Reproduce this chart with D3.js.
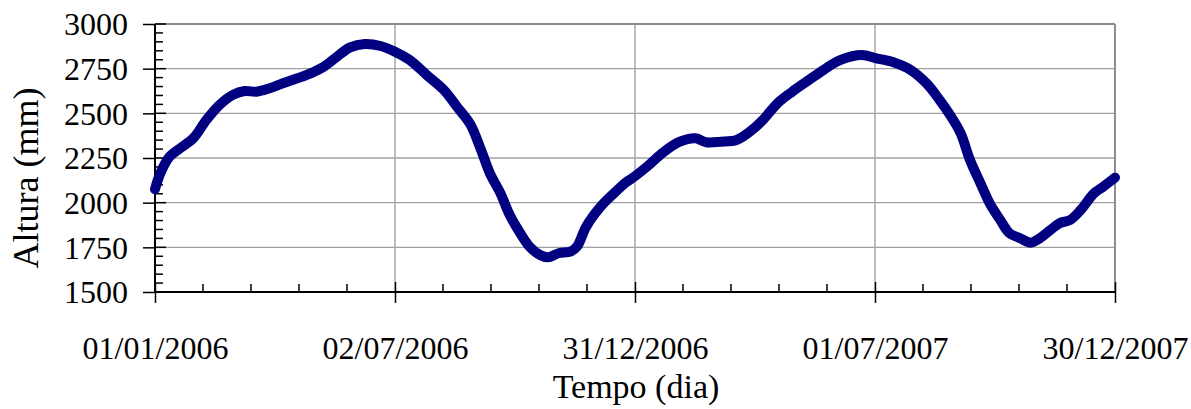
<!DOCTYPE html>
<html>
<head>
<meta charset="utf-8">
<script src="https://cdn.jsdelivr.net/npm/d3@7"></script>
<style>
  body { margin: 0; background: #fff; }
  text { font-family: "Liberation Serif", "Times New Roman", serif; fill: #000; }
</style>
</head>
<body>
<svg id="chart" width="1191" height="409"></svg>
<script>
// dias contados a partir de 01/01/2006
const dias = [0, 4, 11, 19, 29, 39, 49, 59, 68, 77, 87, 97, 108, 118, 128, 138, 148, 159, 171, 182,
  193, 206, 219, 229, 239, 247, 254, 262, 269, 277, 284, 292, 298, 306, 315, 320, 327, 338, 348, 358,
  360, 373, 386, 398, 410, 418, 429, 441, 451, 461, 472, 483, 494, 507, 520, 536, 547, 560, 573, 585,
  595, 603, 611, 618, 626, 633, 641, 648, 656, 664, 671, 679, 686, 694, 702, 712, 719, 728];
const altura = [2075, 2164, 2257, 2304, 2360, 2463, 2547, 2603, 2625, 2621, 2640, 2668, 2696, 2724, 2761, 2817, 2869, 2888, 2877, 2845,
  2799, 2715, 2631, 2537, 2440, 2300, 2164, 2052, 1931, 1829, 1754, 1707, 1694, 1717, 1726, 1754, 1866, 1978, 2052, 2118,
  2127, 2201, 2285, 2341, 2360, 2338, 2341, 2351, 2397, 2463, 2556, 2620, 2677, 2743, 2799, 2826, 2808, 2786, 2743, 2668,
  2575, 2490, 2388, 2239, 2108, 1996, 1903, 1829, 1801, 1776, 1801, 1847, 1885, 1903, 1959, 2052, 2089, 2140];

const xTickLabels = ["01/01/2006", "02/07/2006", "31/12/2006", "01/07/2007", "30/12/2007"];
const yTicks = [1500, 1750, 2000, 2250, 2500, 2750, 3000];
const yMinor = d3.range(1500, 3001, 50);

const parse = d3.timeParse("%d/%m/%Y");
const fmt = d3.timeFormat("%d/%m/%Y");
const inicio = parse("01/01/2006");
const data = dias.map((d, i) => ({ date: d3.timeDay.offset(inicio, d), v: altura[i] }));

const L = 155, R = 1115, T = 24, B = 292;
const svg = d3.select("#chart");

const x = d3.scaleTime().domain([parse(xTickLabels[0]), parse(xTickLabels[xTickLabels.length - 1])]).range([L, R]);
const y = d3.scaleLinear().domain([1500, 3000]).range([B, T]);

const majorX = xTickLabels.map(parse);

// grade
svg.append("g").selectAll("line").data(yTicks.slice(1)).join("line")
  .attr("x1", L).attr("x2", R).attr("y1", d => y(d)).attr("y2", d => y(d))
  .attr("stroke", "#a0a0a0").attr("stroke-width", 1.3);
svg.append("g").selectAll("line").data(majorX.slice(1)).join("line")
  .attr("x1", d => x(d)).attr("x2", d => x(d)).attr("y1", T).attr("y2", B)
  .attr("stroke", "#a8a8a8").attr("stroke-width", 1.5);
svg.append("line").attr("x1", L).attr("x2", R).attr("y1", T).attr("y2", T)
  .attr("stroke", "#8a8a8a").attr("stroke-width", 1.8);
svg.append("line").attr("x1", R).attr("x2", R).attr("y1", T).attr("y2", B)
  .attr("stroke", "#8a8a8a").attr("stroke-width", 1.8);

// eixo y
const yAxis = svg.append("g").attr("transform", `translate(${L},0)`)
  .call(d3.axisLeft(y).tickValues(yTicks).tickSize(12).tickPadding(15).tickFormat(d3.format("d")));
yAxis.select(".domain").remove();
yAxis.selectAll("text").style("font-size", "32px").attr("dy", "0.34em");
yAxis.selectAll(".tick line").attr("stroke-width", 1.5);
svg.append("g").selectAll("line").data(yMinor).join("line")
  .attr("x1", L).attr("x2", d => L + (yTicks.includes(d) ? 11 : 8))
  .attr("y1", d => y(d)).attr("y2", d => y(d))
  .attr("stroke", "#000").attr("stroke-width", 1.5);
svg.append("line").attr("x1", L).attr("x2", L).attr("y1", T).attr("y2", B + 1)
  .attr("stroke", "#000").attr("stroke-width", 2);

// eixo x
const minorX = [];
for (let i = 0; i < majorX.length - 1; i++) {
  const x0 = x(majorX[i]), x1 = x(majorX[i + 1]);
  for (let k = 1; k < 5; k++) minorX.push(x0 + (x1 - x0) * k / 5);
}
const xAxis = svg.append("g").attr("transform", `translate(0,${B})`)
  .call(d3.axisBottom(x).tickValues(majorX).tickSize(11).tickPadding(56).tickFormat(fmt));
xAxis.select(".domain").remove();
xAxis.selectAll("text").style("font-size", "32px").attr("dy", "0");
xAxis.selectAll(".tick line").attr("y1", -10).attr("stroke-width", 1.5);
svg.append("g").selectAll("line").data(minorX).join("line")
  .attr("x1", d => d).attr("x2", d => d).attr("y1", B - 8).attr("y2", B)
  .attr("stroke", "#000").attr("stroke-width", 1.5);
svg.append("line").attr("x1", L).attr("x2", R).attr("y1", B).attr("y2", B)
  .attr("stroke", "#000").attr("stroke-width", 2);

// série
const line = d3.line().x(d => x(d.date)).y(d => y(d.v)).curve(d3.curveCatmullRom.alpha(0.5));
svg.append("path").datum(data).attr("d", line)
  .attr("fill", "none").attr("stroke", "#000080").attr("stroke-width", 10)
  .attr("stroke-linecap", "round").attr("stroke-linejoin", "round");

// títulos
svg.append("text").attr("x", (L + R) / 2 + 1).attr("y", 398).attr("text-anchor", "middle")
  .style("font-size", "34px").text("Tempo (dia)");
svg.append("text").attr("transform", "translate(38,178) rotate(-90)").attr("text-anchor", "middle")
  .style("font-size", "36px").text("Altura (mm)");
</script>
</body>
</html>
